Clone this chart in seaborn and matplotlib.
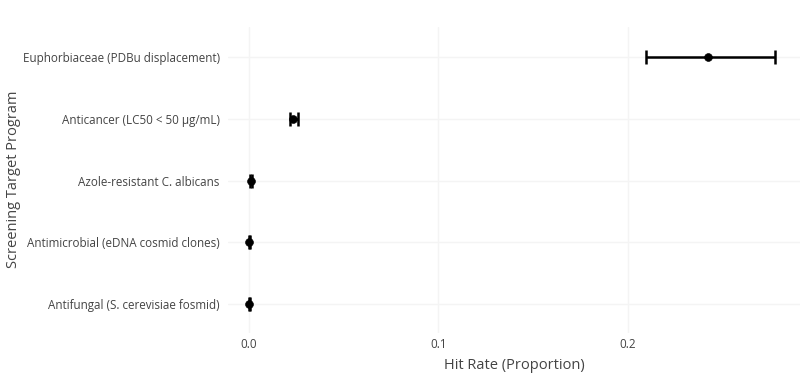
import numpy as np
import pandas as pd
import seaborn as sns
import matplotlib.pyplot as plt

# Data
programs = [
    "Antifungal (S. cerevisiae fosmid)",
    "Antimicrobial (eDNA cosmid clones)",
    "Azole-resistant C. albicans",
    "Anticancer (LC50 < 50 μg/mL)",
    "Euphorbiaceae (PDBu displacement)",
]
hit_rate = [0.0, 0.0, 0.001, 0.0232, 0.2422]
ci_low = [0.0, 0.0, 0.0005, 0.0216, 0.2095]
ci_high = [0.0004, 0.0004, 0.0017, 0.0259, 0.2776]

df = pd.DataFrame({"program": programs, "rate": hit_rate,
                   "lo": ci_low, "hi": ci_high})
df["pos"] = np.arange(len(df))

sns.set_theme(style="whitegrid")
plt.rcParams["font.family"] = ["Open Sans", "DejaVu Sans"]

fig = plt.figure(figsize=(8.07, 3.76), dpi=100)
ax = fig.add_axes([0.2825, 0.115, 0.709, 0.814])

# Error bars (asymmetric)
xerr = np.array([df["rate"] - df["lo"], df["hi"] - df["rate"]])
ax.errorbar(df["rate"], df["pos"], xerr=xerr, fmt="none", ecolor="black",
            elinewidth=1.8, capsize=5, capthick=1.8, zorder=3)

# Points
sns.scatterplot(data=df, x="rate", y="pos", color="black", s=32,
                edgecolor="black", ax=ax, zorder=4, legend=False)

ax.set_yticks(df["pos"])
ax.set_yticklabels(df["program"])
ax.set_ylim(-0.47, 4.5)
ax.set_xlim(-0.011, 0.2908)
ax.set_xticks([0.0, 0.1, 0.2])
ax.set_xticklabels(["0.0", "0.1", "0.2"])

ax.set_facecolor("white")
for s in ax.spines.values():
    s.set_visible(False)
ax.grid(True, color="#f4f4f4", linewidth=1)
ax.tick_params(axis="both", colors="#444444", labelsize=8.4, length=0, pad=6)
ax.tick_params(axis="x", pad=4)

ax.set_xlabel("Hit Rate (Proportion)", fontsize=10.5, color="#444444", labelpad=5)
ax.set_ylabel("Screening Target Program", fontsize=10.5, color="#444444", labelpad=1)

fig.savefig("out.png", dpi=100, facecolor="white")
